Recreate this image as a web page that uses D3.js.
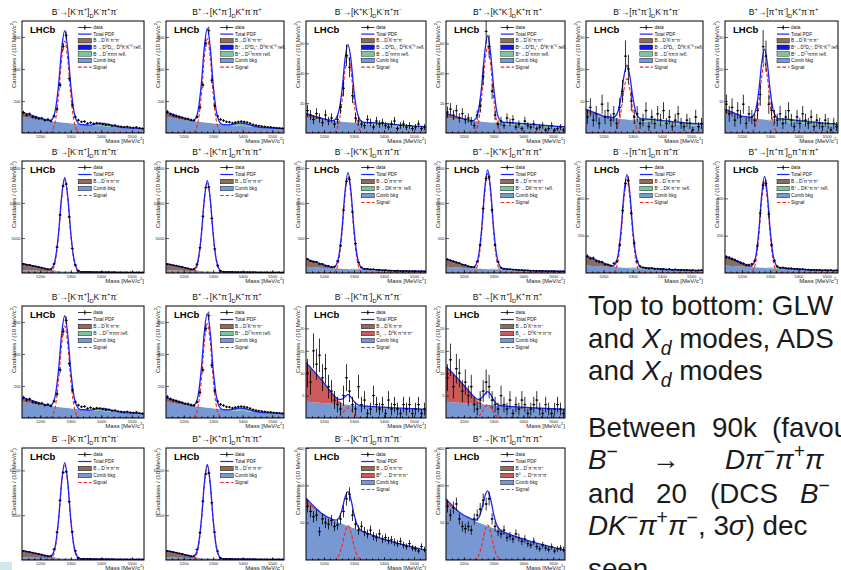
<!DOCTYPE html>
<html>
<head>
<meta charset="utf-8">
<script src="https://cdn.jsdelivr.net/npm/d3@7"></script>
<style>
  html, body { margin: 0; padding: 0; background: #fff; overflow: hidden; }
  text { white-space: pre; }
</style>
</head>
<body>
<svg id="slide" width="841" height="570"></svg>
<script>
// ---------------- binning (MeV/c^2) ----------------
const massRange = [5140, 5540];
const binWidth = 10;
const massTicks = [5200, 5300, 5400, 5500];

// ---------------- B -> D K pi pi, D -> K pi (favoured) ----------------
const dataR1C0 = [128,112,118,100,95,90,92,80,85,75,105,150,300,540,610,340,175,100,80,70,72,60,65,58,62,60,55,50,52,45,48,42,40,38,40,35,33,36,30,28];
const dataR1C1 = [132,118,110,105,100,96,90,88,82,78,100,160,300,560,640,330,170,105,85,78,70,68,62,66,70,72,70,66,60,52,48,45,42,40,37,36,34,32,30,29];
const sigR1C0 = [17,80,236,460,575,460,236,80,17];
const sigR1C1 = [18,83,242,472,590,472,242,83,18];
const combR1Fav = [100,97,94,91,88,85,82,80,77,75,72,70,68,66,64,62,60,58,56,54,52,51,49,47,46,45,43,42,40,39,38,37,35,34,33,32,31,30,29,28,27];
const dstarR1Fav = [28,26,23,20,17,14,10,7,4,2,0];
const ddsR1Fav = [2,2,2,1.5,1,1,0.5,0];
const reflR1Fav = [0,4,9,14,17,18,16,12,8,4,2,0];

// ---------------- B -> D K pi pi, D -> K K ----------------
const dataR1C2 = [15,12,9,13,10,7,12,8,10,6,9,17,30,52,44,25,10,8,6,5,9,7,4,8,6,7,5,4,6,8,3,5,6,4,5,3,4,6,3,4];
const dataR1C3 = [14,16,12,15,10,13,9,10,8,5,12,18,38,68,58,28,12,6,8,5,10,7,9,4,6,3,8,5,4,6,3,4,5,2,3,5,2,3,4,2];
const sigR1C2 = [1.6,7.3,21,42,52,42,21,7.3,1.6];
const sigR1C3 = [1.7,8,24,46,58,46,24,8,1.7];
const combR1KK = [10,9.8,9.6,9.4,9.2,9,8.8,8.6,8.4,8.2,8,7.8,7.6,7.4,7.2,7,6.8,6.6,6.4,6.2,6,5.8,5.7,5.5,5.3,5.2,5,4.9,4.7,4.6,4.4,4.3,4.1,4,3.9,3.8,3.6,3.5,3.4,3.3,3.2];
const dstarR1KK = [3,2.6,2.2,1.8,1.4,1,0.7,0.4,0.2,0];
const reflR1KK = [0,0.3,0.6,0.8,1,1.1,1.2,1.2,1.3,1.3,1.3,1.3,1.3,1.3,1.2,1.2,1.2,1.2,1.1,1.1,1.1,1,1,1,1,1];

// ---------------- B -> D K pi pi, D -> pi pi ----------------
const dataR1C4 = [5,8,4,6,3,9,5,7,4,6,3,8,13,24,20,10,5,6,3,4,7,2,5,3,6,4,7,3,5,2,4,6,3,2,4,3,1,5,2,3];
const dataR1C5 = [9,6,8,4,7,5,9,3,6,5,4,7,12,27,24,9,7,5,4,6,3,5,7,4,2,5,3,6,4,3,5,2,4,3,2,4,3,1,3,2];
const sigR1C4 = [0.5,2.4,7,13.6,17,13.6,7,2.4,0.5];
const sigR1C5 = [0.7,3.1,9,17.6,22,17.6,9,3.1,0.7];
const combR1PP = [6.2,6.05,5.9,5.75,5.6,5.45,5.3,5.15,5,4.85,4.7,4.55,4.4,4.3,4.2,4.1,4,3.9,3.8,3.7,3.6,3.5,3.4,3.3,3.2,3.1,3,2.9,2.85,2.8,2.7,2.65,2.6,2.5,2.45,2.4,2.3,2.25,2.2,2.1,2];
const dstarR1PP = [1.2,1,0.8,0.6,0.4,0.2,0];
const reflR1PP = [0,0.2,0.4,0.6,0.7,0.8,0.8,0.9,0.9,0.9,0.9,0.9,0.9,0.9,0.8,0.8,0.8,0.8,0.8,0.7,0.7,0.7,0.7,0.7,0.7,0.7];

// ---------------- B -> D pi pi pi, D -> K pi ----------------
const dataR2C0 = [1310,1190,1140,1020,950,840,760,630,550,560,1300,3700,8300,12400,12700,8000,3500,1150,330,170,150,160,140,135,130,120,125,110,115,100,105,95,90,92,85,80,82,75,78,70];
const dataR2C1 = [1280,1210,1100,1040,930,860,740,650,530,580,1250,3600,8100,12200,12300,7800,3450,1100,320,180,160,150,145,130,128,125,118,112,110,104,100,98,92,88,86,82,78,76,72,70];
const sigR2C0 = [402,1876,5494,10720,13400,10720,5494,1876,402];
const sigR2C1 = [390,1820,5330,10400,13000,10400,5330,1820,390];
const combR2Fav = [420,400,380,360,340,325,310,295,280,265,250,240,230,220,210,200,192,184,176,168,160,154,148,142,136,130,125,120,115,110,106,102,98,94,90,87,84,81,78,75,72];
const dstarR2Fav = [900,850,790,720,650,570,490,400,310,220,140,70,20,0];

// ---------------- B -> D pi pi pi, D -> K K ----------------
const dataR2C2 = [200,172,160,158,130,128,105,100,82,90,170,390,900,1310,1340,870,420,150,80,58,60,50,52,45,46,38,40,33,35,30,33,28,30,27,29,25,27,24,26,23];
const dataR2C3 = [195,180,165,150,140,120,112,95,88,85,165,400,920,1350,1370,900,400,160,75,62,55,54,48,47,42,40,37,36,32,33,30,29,31,26,27,26,25,24,23,24];
const sigR2C2 = [41,193,566,1104,1380,1104,566,193,41];
const sigR2C3 = [43,199,582,1136,1420,1136,582,199,43];
const combR2KK = [90,87,84,81,78,75,72,70,67,65,62,60,58,56,54,52,50,48,47,45,44,42,41,40,38,37,36,35,34,33,32,31,30,29,28,27.5,27,26,25.5,25,24];
const dstarR2KK = [110,100,90,80,68,56,45,34,24,14,6,2,0];
const reflR2KK = [0,5,10,14,16,16,15,13,11,9,7,5,4,3,2,1,0];

// ---------------- B -> D pi pi pi, D -> pi pi ----------------
const dataR2C4 = [90,78,80,65,60,58,46,45,40,52,62,150,335,480,495,320,160,62,36,30,27,24,26,22,23,20,21,18,20,17,19,16,17,15,16,14,15,13,14,15];
const dataR2C5 = [85,82,75,70,62,55,50,42,44,48,65,145,320,470,480,315,150,66,35,28,29,25,23,24,21,22,19,20,18,18,16,17,15,16,14,15,14,15,13,14];
const sigR2C4 = [15,70,205,400,500,400,205,70,15];
const sigR2C5 = [15,69,201,392,490,392,201,69,15];
const combR2PP = [40,39,38,37,36,35,34,33,32,31,30,29,28.5,28,27,26,25,24.5,24,23,22.5,22,21.5,21,20.5,20,19.5,19,18.5,18,17.5,17,16.5,16,15.5,15,14.8,14.5,14.2,14,13.8];
const dstarR2PP = [50,46,41,36,30,25,20,15,10,6,3,1,0];
const reflR2PP = [0,2,4,5,6,6,5.5,5,4.5,4,3,2.5,2,1.5,1,0.5,0];

// ---------------- B -> D K pi pi, D -> K pi (suppressed) ----------------
const dataR3C2 = [10,8,15,12,14,9,11,7,6,4,3,2,5,9,6,3,2,7,3,4,1,2,5,3,2,3,1,4,2,3,2,1,3,2,3,1,2,3,1,2];
const dataR3C3 = [9,13,7,11,10,6,8,5,7,3,2,4,6,8,7,4,3,2,5,3,2,4,1,3,2,4,3,1,2,3,4,2,1,3,2,1,2,3,2,1];
const sigR3C2 = [0.07,0.3,0.9,1.8,2.3,1.8,0.9,0.3,0.07];
const sigR3C3 = [0.1,0.4,1.2,2.4,3,2.4,1.2,0.4,0.1];
const combR3Sup = [3.6,3.55,3.5,3.45,3.4,3.35,3.3,3.25,3.2,3.15,3.1,3.05,3,2.95,2.9,2.85,2.8,2.76,2.72,2.68,2.64,2.6,2.56,2.52,2.48,2.44,2.4,2.36,2.32,2.28,2.25,2.22,2.19,2.16,2.13,2.1,2.07,2.04,2.01,1.98,1.95];
const dstarR3Sup = [0.3,0.2,0.1,0];
const bsR3C2 = [8.4,7.9,7.3,6.7,6.0,5.3,4.5,3.7,2.9,2.1,1.4,0.8,0.3,0];
const bsR3C3 = [7.5,7.1,6.6,6.0,5.4,4.7,4.0,3.3,2.6,1.9,1.2,0.7,0.3,0];

// ---------------- B -> D pi pi pi, D -> K pi (favoured, ADS selection) ----------------
const dataR4C0 = [1020,940,890,810,745,660,590,500,430,460,1200,3100,6650,9750,9850,6500,3150,1030,250,135,120,115,110,108,100,98,96,90,88,85,80,76,75,70,69,65,62,63,58,57];
const dataR4C1 = [1000,950,870,820,730,670,580,510,420,450,1180,3050,6550,9600,9700,6400,3100,1000,245,130,125,112,108,104,102,97,94,92,86,84,82,78,74,72,68,66,64,60,60,56];
const sigR4C0 = [321,1498,4387,8560,10700,8560,4387,1498,321];
const sigR4C1 = [315,1470,4305,8400,10500,8400,4305,1470,315];
const combR4Fav = [320,305,290,277,264,252,240,229,218,208,198,189,180,172,164,157,150,143,137,131,125,120,115,110,105,101,97,93,89,85,82,79,76,73,70,67,65,63,61,59,57];
const dstarR4Fav = [720,680,630,575,515,450,385,315,245,175,110,55,15,0];

// ---------------- B -> D pi pi pi, D -> K pi (suppressed) ----------------
const dataR4C2 = [72,65,58,60,38,55,50,48,53,45,47,55,65,82,88,60,48,40,45,38,35,40,32,30,35,28,30,26,27,24,22,25,20,18,22,16,15,12,18,14];
const dataR4C3 = [72,60,70,75,55,45,42,45,40,55,60,68,80,75,82,55,45,38,35,40,30,32,28,35,30,25,28,22,20,25,18,15,20,16,14,18,12,15,16,14];
const sigR4C2 = [1.4,6.4,18.9,36.8,46,36.8,18.9,6.4,1.4];
const sigR4C3 = [1.4,6.6,19.3,37.6,47,37.6,19.3,6.6,1.4];
const combR4Sup = [75,72,69.5,67,64.5,62,60,58,56,54,52,50,48.5,47,45.5,44,42.5,41,39.5,38,36.5,35,33.5,32,30.5,29,28,26.5,25.5,24,23,22,21,20,19,18,17,16,15,14,13];
const dstarR4Sup = [2,1.5,1,0.5,0];
const b0R4C2 = [6,5,4,3,2,1,0.5,0];
const b0R4C3 = [5,4,3,2,1.2,0.5,0];

// signal windows start here; component arrays carry their own start mass
const sigStart = 5240;

// ---------------- panel list ----------------
// comps: [kind, values, start mass, legend label]
const panels = [
  {row:0,col:0,title:'B^{-}→[K^{-}π^{+}]_{D}K^{-}π^{+}π^{-}',yMax:700,yTicks:[200,400,600],data:dataR1C0,sig:sigR1C0,comb:combR1Fav,
   comps:[['dstar',dstarR1Fav,5140,'B→D^{*}K^{-}π^{+}π^{-}'],['dds',ddsR1Fav,5140,'B^{-}→D^{0}D_{s}^{-}, D̄^{0}K^{-}K^{*0} refl.'],['refl',reflR1Fav,5360,'B^{-}→D^{*}πππ refl.']]},
  {row:0,col:1,title:'B^{+}→[K^{+}π^{-}]_{D}K^{+}π^{-}π^{+}',yMax:700,yTicks:[200,400,600],data:dataR1C1,sig:sigR1C1,comb:combR1Fav,
   comps:[['dstar',dstarR1Fav,5140,'B→D^{*}K^{+}π^{-}π^{+}'],['dds',ddsR1Fav,5140,'B^{+}→D^{0}D_{s}^{+}, D̄^{0}K^{+}K^{*0} refl.'],['refl',reflR1Fav,5350,'B^{+}→D^{(*)}πππ refl.']]},
  {row:0,col:2,title:'B^{-}→[K^{+}K^{-}]_{D}K^{-}π^{+}π^{-}',yMax:75,yTicks:[20,40,60],data:dataR1C2,sig:sigR1C2,comb:combR1KK,
   comps:[['dstar',dstarR1KK,5140,'B→D^{*}K^{-}π^{+}π^{-}'],['dds',[],5140,'B^{-}→D^{0}D_{s}^{-}, D̄^{0}K^{-}K^{*0} refl.'],['refl',reflR1KK,5290,'B^{-}→D^{*}πππ refl.']]},
  {row:0,col:3,title:'B^{+}→[K^{+}K^{-}]_{D}K^{+}π^{-}π^{+}',yMax:75,yTicks:[20,40,60],data:dataR1C3,sig:sigR1C3,comb:combR1KK,
   comps:[['dstar',dstarR1KK,5140,'B→D^{*}K^{+}π^{-}π^{+}'],['dds',[],5140,'B^{+}→D^{0}D_{s}^{+}, D̄^{0}K^{+}K^{*0} refl.'],['refl',reflR1KK,5290,'B^{+}→D^{*}πππ refl.']]},
  {row:0,col:4,title:'B^{-}→[π^{+}π^{-}]_{D}K^{-}π^{+}π^{-}',yMax:35,yTicks:[10,20,30],data:dataR1C4,sig:sigR1C4,comb:combR1PP,
   comps:[['dstar',dstarR1PP,5140,'B→D^{*}K^{-}π^{+}π^{-}'],['dds',[],5140,'B^{-}→D^{0}D_{s}^{-}, D̄^{0}K^{-}K^{*0} refl.'],['refl',reflR1PP,5290,'B^{-}→D^{*}πππ refl.']]},
  {row:0,col:5,title:'B^{+}→[π^{+}π^{-}]_{D}K^{+}π^{-}π^{+}',yMax:35,yTicks:[10,20,30],data:dataR1C5,sig:sigR1C5,comb:combR1PP,
   comps:[['dstar',dstarR1PP,5140,'B→D^{*}K^{+}π^{-}π^{+}'],['dds',[],5140,'B^{+}→D^{0}D_{s}^{+}, D̄^{0}K^{+}K^{*0} refl.'],['refl',reflR1PP,5290,'B^{+}→D^{(*)}πππ refl.']]},

  {row:1,col:0,title:'B^{-}→[K^{-}π^{+}]_{D}π^{-}π^{+}π^{-}',yMax:16000,yTicks:[5000,10000,15000],data:dataR2C0,sig:sigR2C0,comb:combR2Fav,
   comps:[['dstar',dstarR2Fav,5140,'B→D^{*}π^{-}π^{+}π^{-}']]},
  {row:1,col:1,title:'B^{+}→[K^{+}π^{-}]_{D}π^{+}π^{-}π^{+}',yMax:16000,yTicks:[5000,10000,15000],data:dataR2C1,sig:sigR2C1,comb:combR2Fav,
   comps:[['dstar',dstarR2Fav,5140,'B→D^{*}π^{+}π^{-}π^{+}']]},
  {row:1,col:2,title:'B^{-}→[K^{+}K^{-}]_{D}π^{-}π^{+}π^{-}',yMax:1600,yTicks:[500,1000,1500],data:dataR2C2,sig:sigR2C2,comb:combR2KK,
   comps:[['dstar',dstarR2KK,5140,'B→D^{*}π^{-}π^{+}π^{-}'],['refl',reflR2KK,5280,'B^{-}→DK^{-}π^{+}π^{-} refl.']]},
  {row:1,col:3,title:'B^{+}→[K^{+}K^{-}]_{D}π^{+}π^{-}π^{+}',yMax:1600,yTicks:[500,1000,1500],data:dataR2C3,sig:sigR2C3,comb:combR2KK,
   comps:[['dstar',dstarR2KK,5140,'B→D^{*}π^{+}π^{-}π^{+}'],['refl',reflR2KK,5280,'B^{+}→DK^{+}π^{-}π^{+} refl.']]},
  {row:1,col:4,title:'B^{-}→[π^{+}π^{-}]_{D}π^{-}π^{+}π^{-}',yMax:600,yTicks:[200,400],data:dataR2C4,sig:sigR2C4,comb:combR2PP,
   comps:[['dstar',dstarR2PP,5140,'B→D^{*}π^{-}π^{+}π^{-}'],['refl',reflR2PP,5280,'B^{-}→DK^{-}π^{+}π^{-} refl.']]},
  {row:1,col:5,title:'B^{+}→[π^{+}π^{-}]_{D}π^{+}π^{-}π^{+}',yMax:600,yTicks:[200,400],data:dataR2C5,sig:sigR2C5,comb:combR2PP,
   comps:[['dstar',dstarR2PP,5140,'B→D^{*}π^{+}π^{-}π^{+}'],['refl',reflR2PP,5280,'B^{+}→DK^{+}π^{-}π^{+} refl.']]},

  {row:2,col:0,title:'B^{-}→[K^{-}π^{+}]_{D}K^{-}π^{+}π^{-}',yMax:700,yTicks:[200,400,600],data:dataR1C0,sig:sigR1C0,comb:combR1Fav,
   comps:[['dstar',dstarR1Fav,5140,'B→D^{*}K^{-}π^{+}π^{-}'],['refl',reflR1Fav,5360,'B^{-}→D^{(*)}πππ refl.']]},
  {row:2,col:1,title:'B^{+}→[K^{+}π^{-}]_{D}K^{+}π^{-}π^{+}',yMax:700,yTicks:[200,400,600],data:dataR1C1,sig:sigR1C1,comb:combR1Fav,
   comps:[['dstar',dstarR1Fav,5140,'B→D^{*}K^{+}π^{-}π^{+}'],['refl',reflR1Fav,5350,'B^{+}→D^{(*)}πππ refl.']]},
  {row:2,col:2,title:'B^{-}→[K^{+}π^{-}]_{D}K^{-}π^{+}π^{-}',yMax:25,yTicks:[5,10,15,20],data:dataR3C2,sig:sigR3C2,comb:combR3Sup,
   comps:[['dstar',dstarR3Sup,5140,'B→D^{*}K^{-}π^{+}π^{-}'],['bs',bsR3C2,5140,'B_{s} → D̄^{0}K^{-}π^{+}π^{-}π^{+}']]},
  {row:2,col:3,title:'B^{+}→[K^{-}π^{+}]_{D}K^{+}π^{-}π^{+}',yMax:25,yTicks:[5,10,15,20],data:dataR3C3,sig:sigR3C3,comb:combR3Sup,
   comps:[['dstar',dstarR3Sup,5140,'B→D^{*}K^{+}π^{-}π^{+}'],['bs',bsR3C3,5140,'B_{s} → D^{0}K^{+}π^{-}π^{+}π^{-}']]},

  {row:3,col:0,title:'B^{-}→[K^{-}π^{+}]_{D}π^{-}π^{+}π^{-}',yMax:12500,yTicks:[5000,10000],data:dataR4C0,sig:sigR4C0,comb:combR4Fav,
   comps:[['dstar',dstarR4Fav,5140,'B→D^{*}π^{-}π^{+}π^{-}']]},
  {row:3,col:1,title:'B^{+}→[K^{+}π^{-}]_{D}π^{+}π^{-}π^{+}',yMax:12500,yTicks:[5000,10000],data:dataR4C1,sig:sigR4C1,comb:combR4Fav,
   comps:[['dstar',dstarR4Fav,5140,'B→D^{*}π^{+}π^{-}π^{+}']]},
  {row:3,col:2,title:'B^{-}→[K^{+}π^{-}]_{D}π^{-}π^{+}π^{-}',yMax:150,yTicks:[50,100,150],data:dataR4C2,sig:sigR4C2,comb:combR4Sup,
   comps:[['dstar',dstarR4Sup,5140,'B→D^{*}π^{-}π^{+}π^{-}'],['bs',b0R4C2,5140,'B^{0} → D^{-}π^{+}π^{-}π^{+}']]},
  {row:3,col:3,title:'B^{+}→[K^{-}π^{+}]_{D}π^{+}π^{-}π^{+}',yMax:150,yTicks:[50,100,150],data:dataR4C3,sig:sigR4C3,comb:combR4Sup,
   comps:[['dstar',dstarR4Sup,5140,'B→D^{*}π^{+}π^{-}π^{+}'],['bs',b0R4C3,5140,'B^{0} → D^{+}π^{-}π^{+}π^{-}']]}
];

// ---------------- styling ----------------
const FONT = '"Liberation Sans", Arial, Helvetica, sans-serif';
const fillOf = { comb: '#7798d3', refl: '#7cc49c', dds: '#1414f0', bs: '#cd5a5a', dstar: '#8d6c5c' };
const stackRank = { comb: 0, refl: 1, dds: 2, bs: 3, dstar: 4 };
const totalColour = '#1a22ff';
const signalColour = '#ff1e1e';

const colLeft = [22, 166, 306, 446, 586, 725];
const colWidth = [122, 118, 120, 119, 117, 113];
const rowTop = [21, 161, 306, 448];
const frameH = 112;
const rightLimit = 839;

const svg = d3.select('#slide').attr('font-family', FONT);
const defs = svg.append('defs');

const grid = d3.range(massRange[0], massRange[1] + 1, binWidth);            // curve sampling points
const binCentres = d3.range(massRange[0] + binWidth / 2, massRange[1], binWidth);

function place(values, startMass) {
  const out = new Array(grid.length).fill(0);
  const i0 = Math.round((startMass - massRange[0]) / binWidth);
  values.forEach((v, i) => { if (i0 + i < out.length) out[i0 + i] = v; });
  return out;
}

// text with ^{..} superscripts and _{..} subscripts
function rich(sel, str, fs) {
  const re = /([\^_])\{([^}]*)\}/g;
  let last = 0, m, cur = 0;
  const put = (t, lvl) => {
    if (!t) return;
    const target = lvl > 0 ? -0.42 * fs : lvl < 0 ? 0.3 * fs : 0;
    const ts = sel.append('tspan').text(t);
    if (target !== cur) ts.attr('dy', (target - cur).toFixed(2));
    if (lvl !== 0) ts.attr('font-size', (fs * 0.68).toFixed(2));
    cur = target;
  };
  while ((m = re.exec(str)) !== null) {
    put(str.slice(last, m.index), 0);
    put(m[2], m[1] === '^' ? 1 : -1);
    last = re.lastIndex;
  }
  put(str.slice(last), 0);
  return sel;
}

// squeeze a left-anchored label so it stays inside the slide
function keepInside(sel, x0) {
  const len = sel.node().getComputedTextLength();
  if (x0 + len > rightLimit) sel.attr('textLength', rightLimit - x0).attr('lengthAdjust', 'spacingAndGlyphs');
}

panels.forEach((p, idx) => {
  const L = colLeft[p.col], W = colWidth[p.col], T = rowTop[p.row], H = frameH;
  const x = d3.scaleLinear().domain(massRange).range([L, L + W]);
  const y = d3.scaleLinear().domain([0, p.yMax]).range([T + H, T]);
  const g = svg.append('g');

  defs.append('clipPath').attr('id', 'clip' + idx)
    .append('rect').attr('x', L).attr('y', T).attr('width', W).attr('height', H);
  const plot = g.append('g').attr('clip-path', `url(#clip${idx})`);

  // stacked background components
  const layers = [{ key: 'comb', vals: p.comb }]
    .concat(p.comps.map(c => ({ key: c[0], vals: place(c[1], c[2]) })))
    .sort((a, b) => stackRank[a.key] - stackRank[b.key]);
  let lower = new Array(grid.length).fill(0);
  layers.forEach(layer => {
    const upper = lower.map((v, i) => v + layer.vals[i]);
    if (d3.max(layer.vals) > 0) {
      const lo = lower.slice();
      const area = d3.area()
        .x((d, i) => x(grid[i]))
        .y0((d, i) => y(lo[i]))
        .y1((d, i) => y(upper[i]))
        .curve(d3.curveMonotoneX);
      plot.append('path').attr('d', area(grid)).attr('fill', fillOf[layer.key]).attr('stroke', 'none');
    }
    lower = upper;
  });
  const bkgTop = lower;
  const signal = place(p.sig, sigStart);
  const total = bkgTop.map((v, i) => v + signal[i]);

  const line = vals => d3.line().x((d, i) => x(grid[i])).y((d, i) => y(vals[i])).curve(d3.curveMonotoneX)(grid);
  plot.append('path').attr('d', line(signal)).attr('fill', 'none')
    .attr('stroke', signalColour).attr('stroke-width', 1.1).attr('stroke-dasharray', '3.5,2');
  plot.append('path').attr('d', line(total)).attr('fill', 'none')
    .attr('stroke', totalColour).attr('stroke-width', 1.3);

  // data points with Poisson error bars
  const pts = plot.append('g').attr('stroke', '#000').attr('stroke-width', 0.8);
  p.data.forEach((n, i) => {
    const cx = x(binCentres[i]), cy = y(n), e = Math.sqrt(n);
    pts.append('line').attr('x1', cx).attr('x2', cx).attr('y1', y(n + e)).attr('y2', y(Math.max(0, n - e)));
    pts.append('line').attr('x1', x(binCentres[i] - binWidth / 2)).attr('x2', x(binCentres[i] + binWidth / 2)).attr('y1', cy).attr('y2', cy);
  });
  plot.append('g').selectAll('circle').data(p.data).join('circle')
    .attr('cx', (d, i) => x(binCentres[i])).attr('cy', d => y(d)).attr('r', 0.9).attr('fill', '#000');

  // axes (ticks drawn inward)
  const xAxis = g.append('g').attr('transform', `translate(0,${T + H})`)
    .call(d3.axisBottom(x).tickValues(massTicks).tickSizeInner(-3).tickSizeOuter(0).tickPadding(2).tickFormat(d3.format('d')));
  g.append('g').attr('transform', `translate(0,${T + H})`)
    .call(d3.axisBottom(x).tickValues(d3.range(5160, 5540, 20)).tickSizeInner(-1.5).tickSizeOuter(0).tickFormat(''))
    .call(a => a.select('.domain').remove());
  const yAxis = g.append('g').attr('transform', `translate(${L},0)`)
    .call(d3.axisLeft(y).tickValues(p.yTicks).tickSizeInner(-3).tickSizeOuter(0).tickPadding(1.5).tickFormat(d3.format('d')));
  [xAxis, yAxis].forEach(a => {
    a.select('.domain').remove();
    a.selectAll('.tick line').attr('stroke', '#000').attr('stroke-width', 0.6);
    a.selectAll('.tick text').attr('font-size', 4).attr('font-family', FONT).attr('fill', '#222');
  });

  // frame
  g.append('rect').attr('x', L).attr('y', T).attr('width', W).attr('height', H)
    .attr('fill', 'none').attr('stroke', '#000').attr('stroke-width', 1);

  // axis titles
  rich(g.append('text').attr('x', L + W).attr('y', T + H + 10).attr('text-anchor', 'end')
    .attr('font-size', 6).attr('fill', '#222'), 'Mass [MeV/c^{2}]', 6);
  rich(g.append('text').attr('transform', `translate(${L - 6},${T}) rotate(-90)`).attr('text-anchor', 'end')
    .attr('font-size', 6).attr('fill', '#222'), 'Candidates / (10 MeV/c^{2})', 6);

  // panel title
  rich(g.append('text').attr('x', L + W / 2 + 2).attr('y', T - 6).attr('text-anchor', 'middle')
    .attr('font-size', 8.5).attr('fill', '#111'), p.title, 8.5);

  // LHCb label
  g.append('text').attr('x', L + 8).attr('y', T + 11.5).attr('font-size', 9.5)
    .attr('font-weight', 'bold').attr('fill', '#000').text('LHCb');

  // legend
  const entries = [{ kind: 'data', label: 'data' }, { kind: 'total', label: 'Total PDF' }]
    .concat(p.comps.map(c => ({ kind: c[0], label: c[3] })))
    .concat([{ kind: 'comb', label: 'Comb bkg' }, { kind: 'signal', label: 'Signal' }]);
  const sx0 = L + 0.46 * W, sw = 0.11 * W, tx = L + 0.585 * W;
  const step = entries.length > 6 ? 6.6 : 7.0;
  entries.forEach((e, k) => {
    const cy = T + 6.5 + k * step;
    const lg = g.append('g');
    if (e.kind === 'data') {
      lg.append('line').attr('x1', sx0).attr('x2', sx0 + sw).attr('y1', cy).attr('y2', cy).attr('stroke', '#000').attr('stroke-width', 0.8);
      lg.append('line').attr('x1', sx0 + sw / 2).attr('x2', sx0 + sw / 2).attr('y1', cy - 2.3).attr('y2', cy + 2.3).attr('stroke', '#000').attr('stroke-width', 0.8);
      lg.append('circle').attr('cx', sx0 + sw / 2).attr('cy', cy).attr('r', 1).attr('fill', '#000');
    } else if (e.kind === 'total') {
      lg.append('line').attr('x1', sx0).attr('x2', sx0 + sw).attr('y1', cy).attr('y2', cy).attr('stroke', totalColour).attr('stroke-width', 1.2);
    } else if (e.kind === 'signal') {
      lg.append('line').attr('x1', sx0).attr('x2', sx0 + sw).attr('y1', cy).attr('y2', cy).attr('stroke', signalColour).attr('stroke-width', 1.1).attr('stroke-dasharray', '3.5,2');
    } else {
      lg.append('rect').attr('x', sx0).attr('y', cy - 2.3).attr('width', sw).attr('height', 4.6)
        .attr('fill', fillOf[e.kind]).attr('stroke', '#000').attr('stroke-width', 0.4);
    }
    const t = rich(lg.append('text').attr('x', tx).attr('y', cy + 1.7).attr('font-size', 4.8).attr('fill', '#111'), e.label, 4.8);
    keepInside(t, tx);
  });
});

// ---------------- slide text ----------------
const NOTE_FS = 27.8;
function noteText(x, yBase, segs) {
  const t = svg.append('text').attr('x', x).attr('y', yBase).attr('font-size', NOTE_FS).attr('fill', '#1a1a1a');
  let cur = 0;
  segs.forEach(([str, italic, lvl]) => {
    const target = lvl > 0 ? -0.4 * NOTE_FS : lvl < 0 ? 0.25 * NOTE_FS : 0;
    const ts = t.append('tspan').text(str);
    if (target !== cur) ts.attr('dy', (target - cur).toFixed(2));
    if (lvl) ts.attr('font-size', NOTE_FS * 0.7);
    if (italic) ts.attr('font-style', 'italic');
    cur = target;
  });
}
noteText(588, 315, [['Top to bottom: GLW']]);
noteText(588, 348, [['and '], ['X', 1], ['d', 1, -1], [' modes, ADS']]);
noteText(588, 380, [['and '], ['X', 1], ['d', 1, -1], [' modes']]);

noteText(588, 437, [['Between']]);
noteText(712, 437, [['90k']]);
noteText(772, 437, [['(favou']]);
noteText(588, 469, [['B', 1], ['−', 0, 1]]);
noteText(652, 469, [['→']]);
noteText(725, 469, [['Dπ', 1], ['−', 0, 1], ['π', 1], ['+', 0, 1], ['π', 1]]);
noteText(588, 503, [['and']]);
noteText(656, 503, [['20']]);
noteText(710, 503, [['(DCS']]);
noteText(800, 503, [['B', 1], ['−', 0, 1]]);
noteText(588, 535, [['DK', 1], ['−', 0, 1], ['π', 1], ['+', 0, 1], ['π', 1], ['−', 0, 1], [', 3'], ['σ', 1], [') dec']]);
noteText(588, 578, [['seen']]);

// small footer marker
svg.append('rect').attr('x', 0).attr('y', 562).attr('width', 12).attr('height', 8).attr('fill', '#d2e7ee');
</script>
</body>
</html>
